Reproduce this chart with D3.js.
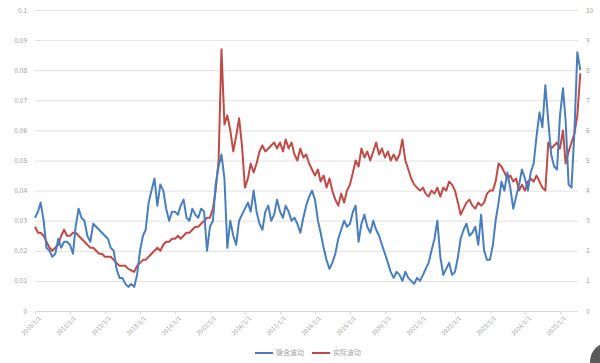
<!DOCTYPE html>
<html>
<head>
<meta charset="utf-8">
<script src="https://cdn.jsdelivr.net/npm/d3@7"></script>
<style>
  html, body { margin: 0; padding: 0; background: #fff; }
  #chart { width: 600px; height: 363px; }
  text { font-family: "Noto Sans CJK SC", "Noto Sans", sans-serif; }
</style>
</head>
<body>
<div id="chart"></div>
<script>
// monthly observations starting 2010-01
const startMonth = new Date(2010, 0, 1);

const seriesNames = ["隐含波动", "实际波动"];

// left axis series (blue)
const blueValues = [
  0.031, 0.033, 0.036, 0.030, 0.021, 0.020, 0.018, 0.019, 0.024, 0.021, 0.023, 0.023,
  0.022, 0.019, 0.028, 0.034, 0.031, 0.030, 0.025, 0.023, 0.029, 0.028, 0.027, 0.026,
  0.025, 0.024, 0.021, 0.020, 0.014, 0.011, 0.011, 0.009, 0.008, 0.009, 0.008, 0.012,
  0.020, 0.025, 0.027, 0.036, 0.040, 0.044, 0.035, 0.042, 0.040, 0.034, 0.030, 0.033,
  0.033, 0.032, 0.035, 0.037, 0.031, 0.030, 0.034, 0.032, 0.031, 0.034, 0.033, 0.020,
  0.028, 0.030, 0.042, 0.048, 0.052, 0.044, 0.021, 0.030, 0.025, 0.022, 0.030, 0.032,
  0.034, 0.036, 0.033, 0.040, 0.033, 0.029, 0.027, 0.033, 0.035, 0.030, 0.032, 0.037,
  0.033, 0.031, 0.035, 0.033, 0.030, 0.031, 0.029, 0.026, 0.031, 0.035, 0.038, 0.040,
  0.037, 0.030, 0.026, 0.021, 0.017, 0.014, 0.016, 0.019, 0.024, 0.027, 0.030, 0.028,
  0.029, 0.033, 0.035, 0.023, 0.029, 0.032, 0.028, 0.026, 0.030, 0.027, 0.025, 0.022,
  0.019, 0.016, 0.013, 0.011, 0.013, 0.012, 0.010, 0.013, 0.011, 0.010, 0.009, 0.011,
  0.010, 0.012, 0.014, 0.016, 0.020, 0.024, 0.030, 0.018, 0.012, 0.014, 0.016, 0.012,
  0.013, 0.018, 0.024, 0.027, 0.029, 0.025, 0.026, 0.028, 0.022, 0.032, 0.020, 0.017,
  0.017, 0.022, 0.030, 0.036, 0.043, 0.040, 0.046, 0.041, 0.034, 0.038, 0.042, 0.047,
  0.044, 0.040, 0.046, 0.049, 0.058, 0.066, 0.061, 0.075, 0.063, 0.052, 0.048, 0.047,
  0.065, 0.074, 0.063, 0.042, 0.041, 0.060, 0.086, 0.080
];

// right axis series (red)
const redValues = [
  2.8, 2.6, 2.6, 2.5, 2.3, 2.1, 2.0, 2.1, 2.2, 2.5, 2.7, 2.5,
  2.5, 2.6, 2.6, 2.5, 2.4, 2.3, 2.2, 2.1, 2.1, 2.0, 1.9, 1.9,
  1.8, 1.8, 1.8, 1.7, 1.6, 1.5, 1.5, 1.5, 1.4, 1.35, 1.3, 1.5,
  1.6, 1.7, 1.7, 1.8, 1.9, 2.0, 2.1, 2.0, 2.2, 2.3, 2.3, 2.4,
  2.4, 2.5, 2.4, 2.5, 2.6, 2.6, 2.7, 2.8, 2.8, 2.9, 3.0, 3.1,
  3.1, 3.4, 4.0, 5.0, 8.7, 6.2, 6.5, 6.0, 5.3, 5.8, 6.4, 5.5,
  4.1, 4.4, 4.9, 4.6, 4.9, 5.3, 5.5, 5.3, 5.4, 5.5, 5.6, 5.4,
  5.6, 5.3, 5.7, 5.4, 5.6, 5.2, 5.0, 5.4, 5.1, 5.2, 4.9, 4.7,
  4.5, 4.7, 4.3, 4.5, 4.1, 4.4, 4.0, 3.7, 3.5, 3.9, 3.6, 4.0,
  4.2, 4.6, 5.0, 4.8, 5.4, 5.1, 5.3, 5.0, 5.3, 5.6, 5.2, 5.4,
  5.1, 5.3, 5.0, 5.2, 5.0, 5.2, 5.7, 5.0, 4.7, 4.4, 4.2, 4.1,
  4.0, 4.1, 3.9, 3.8, 4.0, 3.9, 4.1, 3.8, 4.1, 4.0, 4.3, 4.2,
  4.0, 3.6, 3.2, 3.4, 3.6, 3.7, 3.5, 3.4, 3.6, 3.5, 3.6, 3.9,
  4.0, 4.0, 4.3, 4.9, 4.8, 4.6, 4.4, 4.5, 4.3, 4.4, 4.0, 4.2,
  4.0, 4.3, 4.4, 4.3, 4.5, 4.3, 4.1, 4.0, 5.6, 5.4, 5.5, 5.6,
  5.4, 6.0, 4.9, 5.3, 5.6, 5.9, 6.5, 7.9
];

const leftTicks = [0, 0.01, 0.02, 0.03, 0.04, 0.05, 0.06, 0.07, 0.08, 0.09, 0.1];
const rightTicks = [0, 1, 2, 3, 4, 5, 6, 7, 8, 9, 10];
const yearTicks = [2010, 2011, 2012, 2013, 2014, 2015, 2016, 2017, 2018, 2019, 2020, 2021, 2022, 2023, 2024, 2025];

const colors = ["#4a7ebb", "#be4b48"];

const width = 600, height = 363;
const margin = { top: 10, right: 22, bottom: 52, left: 35 };
const innerW = width - margin.left - margin.right;
const innerH = height - margin.top - margin.bottom;

const svg = d3.select("#chart").append("svg")
    .attr("width", width)
    .attr("height", height);

const g = svg.append("g")
    .attr("transform", `translate(${margin.left},${margin.top})`);

const dates = blueValues.map((v, i) => d3.timeMonth.offset(startMonth, i));

// 2010/1/1 at left edge, one year is 35px
const x = d3.scaleTime()
    .domain([new Date(2010, 0, 1), new Date(2025, 0, 1)])
    .range([0, 525]);

const yLeft = d3.scaleLinear().domain([0, 0.1]).range([innerH, 0]);
const yRight = d3.scaleLinear().domain([0, 10]).range([innerH, 0]);

// grid lines
g.append("g")
    .call(d3.axisLeft(yLeft).tickValues(leftTicks).tickSize(-innerW).tickFormat(""))
    .call(s => s.select(".domain").remove())
    .selectAll("line")
    .attr("stroke", "#e0e0e0")
    .attr("stroke-width", 1);

// left axis labels
g.append("g")
    .call(d3.axisLeft(yLeft).tickValues(leftTicks).tickSize(0).tickPadding(8)
        .tickFormat(d => d === 0 ? "0" : d3.format("")(+d.toFixed(2))))
    .call(s => s.select(".domain").remove())
    .selectAll("text")
    .attr("fill", "#a0a0a0")
    .style("font-size", "6.5px");

// right axis labels
g.append("g")
    .attr("transform", `translate(${innerW},0)`)
    .call(d3.axisRight(yRight).tickValues(rightTicks).tickSize(0).tickPadding(8))
    .call(s => s.select(".domain").remove())
    .selectAll("text")
    .attr("fill", "#a0a0a0")
    .style("font-size", "6.5px");

// x axis
const xAxis = g.append("g")
    .attr("transform", `translate(0,${innerH})`)
    .call(d3.axisBottom(x)
        .tickValues(yearTicks.map(y => new Date(y, 0, 1)))
        .tickSize(3)
        .tickFormat(d3.timeFormat("%Y/%-m/%-d")));

xAxis.select(".domain").attr("stroke", "#d9d9d9");
xAxis.selectAll("line").attr("stroke", "#d9d9d9");
xAxis.selectAll("text")
    .attr("fill", "#a0a0a0")
    .style("font-size", "6px")
    .style("text-anchor", "end")
    .attr("dx", "-0.2em")
    .attr("dy", "0.6em")
    .attr("transform", "rotate(-45)");

// lines
const blueLine = d3.line()
    .x((d, i) => x(dates[i]))
    .y(d => yLeft(d));

const redLine = d3.line()
    .x((d, i) => x(dates[i]))
    .y(d => yRight(d));

g.append("path")
    .datum(redValues)
    .attr("fill", "none")
    .attr("stroke", colors[1])
    .attr("stroke-width", 2)
    .attr("stroke-linejoin", "round")
    .attr("d", redLine);

g.append("path")
    .datum(blueValues)
    .attr("fill", "none")
    .attr("stroke", colors[0])
    .attr("stroke-width", 2)
    .attr("stroke-linejoin", "round")
    .attr("d", blueLine);

// legend
const legend = svg.append("g")
    .attr("transform", "translate(255,353)");

seriesNames.forEach((name, i) => {
    const lg = legend.append("g").attr("transform", `translate(${i * 57},0)`);
    lg.append("line")
        .attr("x1", 0).attr("x2", 18)
        .attr("y1", 0).attr("y2", 0)
        .attr("stroke", colors[i])
        .attr("stroke-width", 2);
    lg.append("text")
        .attr("x", 21)
        .attr("y", 0)
        .attr("dy", "0.35em")
        .attr("fill", "#a0a0a0")
        .style("font-size", "7px")
        .text(name);
});

// corner button partially visible
svg.append("circle")
    .attr("cx", 610)
    .attr("cy", 362)
    .attr("r", 20)
    .attr("fill", "#5a5a5a");
</script>
</body>
</html>
